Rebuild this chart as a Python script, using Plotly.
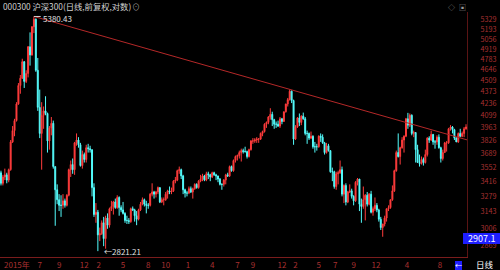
import math
import plotly.graph_objects as go

# Weekly OHLC (CSI 300, Feb 2015 - Nov 2019)
open_ = [3500,3400,3460,3480,3430,3530,3810,3930,4040,4230,4450,4540,4750,4500,4600,4950,4840,5230,5340,4640,
         4190,3900,4100,4150,4120,3820,3960,4010,3560,3340,3250,3200,3200,3240,3200,3290,3530,3580,3530,3800,
         3830,3780,3570,3680,3630,3750,3740,3730,3360,3120,3140,2950,2960,3050,2920,3090,3030,3170,3190,3230,
         3180,3270,3180,3160,3130,3070,3070,3060,3170,3160,3110,3080,3160,3210,3250,3210,3200,3200,3300,3320,
         3300,3320,3360,3230,3250,3250,3300,3330,3320,3330,3420,3430,3520,3530,3470,3340,3310,3310,3350,3320,
         3350,3390,3360,3420,3440,3470,3430,3490,3480,3460,3500,3480,3470,3440,3390,3390,3430,3480,3470,3560,
         3520,3620,3660,3670,3700,3720,3710,3710,3660,3730,3820,3820,3830,3840,3840,3900,3920,4000,4020,4080,
         4110,4050,4000,4000,3980,4060,4030,4140,4230,4280,4380,4270,3840,3970,4070,4020,4090,4060,3900,3900,
         3850,3870,3760,3760,3760,3870,3860,3800,3700,3770,3720,3510,3510,3370,3490,3500,3530,3300,3380,3230,
         3320,3330,3280,3240,3410,3440,3210,3190,3250,3290,3210,3300,3140,3170,3200,3160,3080,3010,3040,3090,
         3170,3180,3250,3330,3520,3700,3660,3750,3830,3870,4060,3990,4100,3900,3910,3730,3600,3590,3630,3600,
         3680,3850,3830,3890,3810,3810,3860,3750,3640,3700,3800,3800,3950,3970,3940,3850,3810,3900,3870,3900,
         3950]
high_ = [3520,3480,3540,3500,3540,3830,3980,4060,4250,4480,4580,4790,4760,4640,4960,5150,5240,5380.43,5350,4800,
         4400,4250,4200,4320,4130,3980,4080,4040,3560,3390,3300,3290,3300,3260,3300,3540,3620,3640,3810,3900,
         3860,3800,3720,3700,3780,3790,3770,3730,3400,3220,3160,3010,3070,3100,3110,3130,3180,3240,3240,3260,
         3290,3280,3200,3230,3140,3110,3090,3180,3190,3170,3150,3170,3230,3270,3260,3240,3220,3310,3400,3330,
         3330,3370,3360,3270,3270,3320,3340,3370,3360,3430,3460,3530,3560,3540,3480,3350,3330,3370,3370,3360,
         3400,3400,3430,3480,3490,3480,3510,3510,3490,3510,3510,3490,3470,3450,3400,3440,3490,3500,3570,3570,
         3630,3670,3680,3720,3740,3740,3760,3720,3740,3830,3850,3850,3860,3850,3910,3930,4010,4030,4090,4180,
         4140,4060,4030,4040,4080,4070,4140,4230,4300,4403,4390,4280,3990,4080,4120,4100,4130,4080,3930,3910,
         3920,3880,3810,3790,3880,3900,3890,3810,3800,3790,3720,3550,3520,3510,3520,3620,3560,3390,3400,3330,
         3390,3350,3290,3420,3450,3440,3260,3370,3300,3320,3310,3330,3190,3270,3220,3170,3100,3040,3110,3170,
         3200,3250,3380,3530,3720,3900,3760,3860,3880,4070,4127,4120,4110,3930,3910,3780,3680,3660,3650,3730,
         3860,3870,3930,3890,3830,3880,3890,3760,3730,3810,3820,3960,3990,3980,3950,3860,3910,3950,3920,3970,
         4000]
low_ = [3380,3380,3430,3400,3410,3520,3800,3870,4030,4220,4350,4530,4420,4480,4550,4700,4830,5140,4620,4150,
        3850,3530,3950,4100,3700,3730,3880,3540,3025,3210,3150,3100,3170,3180,3190,3280,3460,3490,3480,3770,
        3750,3560,3540,3600,3600,3700,3700,3280,3100,3050,2821.21,2900,2950,2860,2840,3000,3010,3150,3120,3170,
        3170,3110,3140,3120,3050,3040,3040,3050,3150,3060,3030,3070,3150,3200,3190,3130,3170,3190,3280,3260,
        3270,3300,3220,3220,3200,3240,3260,3300,3300,3320,3400,3420,3490,3440,3300,3270,3280,3300,3310,3260,
        3340,3350,3350,3410,3420,3420,3420,3440,3420,3450,3470,3430,3410,3380,3340,3370,3390,3460,3460,3510,
        3510,3600,3620,3640,3610,3690,3700,3640,3650,3720,3790,3800,3800,3800,3830,3870,3910,3960,4000,4050,
        3980,3950,3960,3970,3960,4000,4030,4130,4200,4270,4240,3780,3830,3960,3980,3990,4050,3880,3790,3830,
        3840,3740,3700,3720,3750,3810,3790,3680,3690,3710,3500,3420,3350,3340,3390,3490,3280,3220,3200,3220,
        3310,3260,3200,3230,3380,3150,3050,3170,3070,3190,3200,3130,3110,3150,3140,3060,2990,2935,3020,3060,
        3150,3170,3240,3320,3510,3650,3580,3740,3700,3860,3950,3970,3880,3860,3600,3600,3560,3580,3570,3590,
        3660,3800,3820,3780,3740,3780,3740,3600,3620,3700,3710,3790,3930,3900,3830,3810,3800,3860,3860,3860,
        3940]
close_ = [3400,3460,3480,3430,3530,3810,3930,4040,4230,4450,4540,4750,4500,4600,4950,4840,5230,5340,4640,4190,
          3900,4100,4150,4120,3820,3960,4010,3560,3340,3250,3200,3200,3240,3200,3290,3530,3580,3530,3800,3830,
          3780,3570,3680,3630,3750,3740,3730,3360,3120,3140,2950,2960,3050,2920,3090,3030,3170,3190,3230,3180,
          3270,3180,3160,3130,3070,3070,3060,3170,3160,3110,3080,3160,3210,3250,3210,3200,3200,3300,3320,3300,
          3320,3360,3230,3250,3250,3300,3330,3320,3330,3420,3430,3520,3530,3470,3340,3310,3310,3350,3320,3350,
          3390,3360,3420,3440,3470,3430,3490,3480,3460,3500,3480,3470,3440,3390,3390,3430,3480,3470,3560,3520,
          3620,3660,3670,3700,3720,3710,3710,3660,3730,3820,3820,3830,3840,3840,3900,3920,4000,4020,4080,4110,
          4050,4000,4000,3980,4060,4030,4140,4230,4280,4380,4270,3840,3970,4070,4020,4090,4060,3900,3900,3850,
          3870,3760,3760,3760,3870,3860,3800,3700,3770,3720,3510,3510,3370,3490,3500,3530,3300,3380,3230,3320,
          3330,3280,3240,3410,3440,3210,3190,3250,3290,3210,3300,3140,3170,3200,3160,3080,3010,3040,3090,3170,
          3180,3250,3330,3520,3700,3660,3750,3830,3870,4060,3990,4100,3900,3910,3730,3600,3590,3630,3600,3680,
          3850,3830,3890,3810,3810,3860,3750,3640,3700,3800,3800,3950,3970,3940,3850,3810,3900,3870,3900,3950,
          3970]

ytick_vals = [2869, 3006, 3143, 3279, 3416, 3552, 3689, 3826, 3963, 4099,
              4236, 4373, 4509, 4646, 4783, 4919, 5056, 5193, 5329]
xtick_idx = [20, 30, 43, 50.5, 63, 76, 85, 96.5, 109, 122, 130, 145, 152, 164, 172.5, 182, 193.5, 209.5, 226.5]
xtick_text = ["7", "9", "12", "2", "5", "8", "10", "1", "4", "7", "9", "12", "2", "5", "7", "9", "12", "4", "8"]
first_label = "2015年"

title_text = "000300 沪深300(日线,前复权,对数)"
cursor_price = "2907.1"

weeks = list(range(len(close_)))
n = len(close_)

FONT = "Noto Sans CJK SC, DejaVu Sans, sans-serif"
RED_TXT = "#a83030"

fig = go.Figure()
fig.add_trace(go.Candlestick(
    x=weeks, open=open_, high=high_, low=low_, close=close_,
    increasing=dict(line=dict(color="#ff3c3c", width=1), fillcolor="#ff3c3c"),
    decreasing=dict(line=dict(color="#54fcfc", width=1), fillcolor="#54fcfc"),
    whiskerwidth=0, showlegend=False, hoverinfo="skip"))

# trend line through the two major highs
p1 = high_.index(max(high_))
seg = high_[100:200]
p2 = 100 + seg.index(max(seg))
slope = (math.log(high_[p2]) - math.log(high_[p1])) / (p2 - p1)
x_end = n - 0.5
y_end = math.exp(math.log(high_[p1]) + slope * (x_end - p1))
fig.add_trace(go.Scatter(x=[p1, x_end], y=[high_[p1], y_end], mode="lines",
                         line=dict(color="#b42828", width=1), showlegend=False, hoverinfo="skip"))

lo = low_.index(min(low_))
fig.add_trace(go.Scatter(x=[p1, p1 + 3.5], y=[high_[p1], high_[p1]], mode="lines",
                         line=dict(color="#d0d0d0", width=1), showlegend=False, hoverinfo="skip"))

H = 270.0
def py(px):
    return 1 - px / H

annotations = [
    dict(text=title_text, x=1 / 500, y=py(6), xref="paper", yref="paper", xanchor="left", yanchor="middle",
         showarrow=False, font=dict(size=8.3, color="#d2d2d2", family=FONT)),
    dict(text="⊙", x=130 / 500, y=py(6), xref="paper", yref="paper", xanchor="left", yanchor="middle",
         showarrow=False, font=dict(size=8, color="#9a9a9a", family=FONT)),
    dict(text="◇", x=446 / 500, y=py(7), xref="paper", yref="paper", xanchor="left", yanchor="middle",
         showarrow=False, font=dict(size=7, color="#9a9a9a", family=FONT)),
    dict(text="▣", x=457 / 500, y=py(7), xref="paper", yref="paper", xanchor="left", yanchor="middle",
         showarrow=False, font=dict(size=7, color="#9a9a9a", family=FONT)),
    dict(text=f"{max(high_):.2f}", x=p1 + 3.8, y=py(18.5), xref="x", yref="paper",
         xanchor="left", yanchor="middle", showarrow=False, font=dict(size=8, color="#e0e0e0", family=FONT)),
    dict(text=f"←{min(low_):.2f}", x=lo + 2.3, y=math.log10(low_[lo]), xref="x", yref="y",
         xanchor="left", yanchor="middle", showarrow=False, font=dict(size=8, color="#e0e0e0", family=FONT)),
    dict(text=first_label, x=2 / 500, y=py(264), xref="paper", yref="paper", xanchor="left",
         yanchor="middle", showarrow=False, font=dict(size=8, color=RED_TXT, family=FONT)),
    dict(text=cursor_price, x=466 / 500, y=py(238.5), xref="paper", yref="paper", xanchor="left",
         yanchor="middle", showarrow=False, font=dict(size=9, color="white", family=FONT)),
    dict(text="←", x=458.5 / 500, y=py(265), xref="paper", yref="paper", xanchor="center",
         yanchor="middle", showarrow=False, font=dict(size=7, color="white", family=FONT)),
    dict(text="日线", x=474 / 500, y=py(263.5), xref="paper", yref="paper", xanchor="left",
         yanchor="middle", showarrow=False, font=dict(size=8.5, color="white", family=FONT)),
]

shapes = [
    dict(type="rect", xref="paper", yref="paper", x0=463 / 500, x1=1.0, y0=py(244), y1=py(233),
         fillcolor="#1e1eff", line=dict(width=0), layer="above"),
    dict(type="rect", xref="paper", yref="paper", x0=455 / 500, x1=462 / 500, y0=py(270), y1=py(261),
         fillcolor="#1e1eff", line=dict(width=0), layer="above"),
]

ymin, ymax = 2776, 5447
fig.update_layout(
    width=500, height=270, margin=dict(l=0, r=0, t=0, b=0),
    paper_bgcolor="black", plot_bgcolor="black", showlegend=False,
    annotations=annotations, shapes=shapes,
    xaxis=dict(domain=[0, 467 / 500], range=[-0.5, n - 0.5], rangeslider=dict(visible=False),
               showgrid=False, zeroline=False, showline=True, linecolor="#7a1c1c", linewidth=1,
               tickmode="array", tickvals=xtick_idx, ticktext=xtick_text, ticks="",
               tickfont=dict(size=8, color=RED_TXT, family=FONT), automargin=False, fixedrange=True),
    yaxis=dict(type="log", domain=[1 - 257 / H, 1 - 12 / H],
               range=[math.log10(ymin), math.log10(ymax)], side="right",
               tickmode="array", tickvals=ytick_vals, ticktext=[str(v) for v in ytick_vals],
               ticks="outside", ticklen=11, tickcolor="rgba(0,0,0,0)",
               tickfont=dict(size=7.2, color=RED_TXT, family=FONT),
               showgrid=False, zeroline=False, showline=True, linecolor="#5a1414", linewidth=1,
               automargin=False, fixedrange=True),
)

fig.write_html("out.html")
